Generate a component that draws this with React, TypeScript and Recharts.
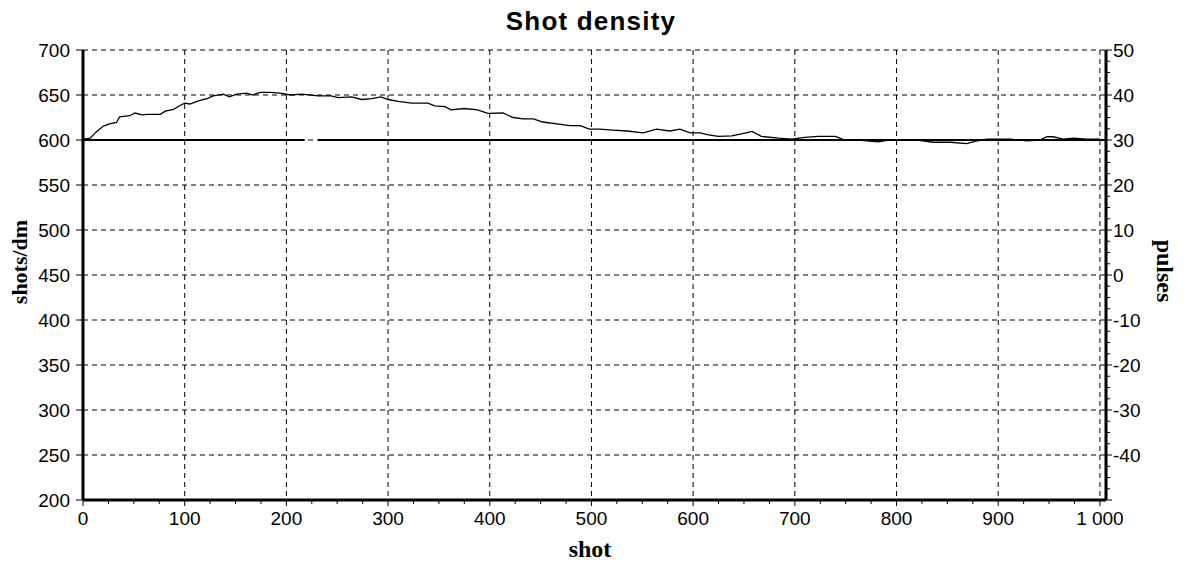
import React from 'react';
import { LineChart, Line, XAxis, YAxis, CartesianGrid } from 'recharts';

// Shot density curve (left axis, shots/dm)
const shotPositions = [
  0, 7, 13, 20, 26, 33, 36, 46, 51, 58, 63, 76, 81, 89, 95, 100, 105, 115, 122, 128,
  138, 144, 151, 161, 167, 174, 184, 194, 204, 215, 231, 244, 251, 264, 274, 284, 293, 300, 310, 323,
  339, 346, 356, 362, 375, 388, 398, 413, 423, 433, 443, 452, 466, 479, 489, 498, 508, 521, 535, 551,
  564, 577, 587, 597, 607, 615, 625, 638, 651, 658, 667, 684, 697, 710, 723, 740, 749, 762, 782, 792,
  803, 820, 836, 853, 869, 879, 889, 902, 912, 928, 941, 948, 954, 964, 974, 987, 1000,
];
const shotDensity = [
  601, 602, 609, 615.5, 618, 619.5, 625.6, 627, 630, 628, 628.5, 628.5, 632, 634, 638, 641, 640, 644, 646, 649,
  651, 648, 651, 652, 650, 653, 653, 652, 650, 651, 649, 649, 647, 648, 645, 646, 648, 645, 643, 641,
  641, 638, 637, 633.5, 635, 633.5, 629.6, 630, 625, 623.5, 623.5, 620, 618, 616, 616, 612, 612, 611, 610, 608,
  612, 610, 612, 608, 608, 605.7, 604, 604.5, 607.6, 609.5, 604, 602, 601, 603, 604, 604, 600, 600, 598, 600,
  600, 600, 597.5, 597.5, 596, 599, 601, 601, 601, 599, 600, 603.6, 603.6, 601, 602, 601, 601,
];

// Pulses (right axis) – flat line with a short gap
const pulseShots = [0, 218, 224, 231, 1006];
const pulseValues: (number | null)[] = [30, 30, null, 30, 30];

// Ticks
const xTicks = [0, 100, 200, 300, 400, 500, 600, 700, 800, 900, 1000];
const xMinorTicks = Array.from({ length: 41 }, (_, i) => i * 25);
const leftTicks = [200, 250, 300, 350, 400, 450, 500, 550, 600, 650, 700];
const rightTicks = [-40, -30, -20, -10, 0, 10, 20, 30, 40, 50];
const rightMinorTicks = Array.from({ length: 41 }, (_, i) => -50 + i * 2.5);

const curveData = shotPositions.map((s, i) => ({ shot: s, v: shotDensity[i] }));
const pulseData = pulseShots.map((s, i) => ({ shot: s, p: pulseValues[i] }));

const W = 1177;
const H = 548;

const tickStyle = { fill: '#000', fontSize: 19, fontFamily: 'Liberation Sans, Arial, sans-serif' };
const axisLineStyle = { stroke: '#000', strokeWidth: 3 };
const tickLineStyle = { stroke: '#000', strokeWidth: 1 };

// Tick for the main x axis: small minor ticks every 25 shots, labels every 100
const XTick = (props: any) => {
  const { x, y, payload } = props;
  const v = payload.value as number;
  const major = v % 100 === 0;
  return (
    <g>
      <line x1={x} x2={x} y1={y - 12} y2={y - 12 + (major ? 6 : 4)} stroke="#000" strokeWidth={1} />
      {major && (
        <text
          x={x}
          y={y}
          dy="0.71em"
          textAnchor="middle"
          fill="#000"
          fontSize={19}
          fontFamily="Liberation Sans, Arial, sans-serif"
        >
          {v === 1000 ? '1 000' : String(v)}
        </text>
      )}
    </g>
  );
};

// Tick for right axis: minor ticks every 2.5, labels every 10
const RTick = (props: any) => {
  const { x, y, payload } = props;
  const v = payload.value as number;
  const major = Math.abs(v % 10) < 1e-6;
  return (
    <g>
      <line x1={x - 7} x2={x - 7 + (major ? 6 : 4)} y1={y} y2={y} stroke="#000" strokeWidth={1} />
      {major && v > -50 && (
        <text
          x={x}
          y={y}
          dy="0.355em"
          textAnchor="start"
          fill="#000"
          fontSize={19}
          fontFamily="Liberation Sans, Arial, sans-serif"
        >
          {String(v)}
        </text>
      )}
    </g>
  );
};

export default function App() {
  return (
    <div style={{ position: 'relative', width: W, height: H + 8, background: '#fff' }}>
      <LineChart
        width={W}
        height={H}
        margin={{ top: 42, right: 29, bottom: 16, left: 15 }}
        style={{ fontFamily: 'Liberation Sans, Arial, sans-serif' }}
      >
        <CartesianGrid
          xAxisId="grid"
          stroke="#000"
          strokeDasharray="5 4"
          strokeWidth={1}
        />
        <XAxis
          xAxisId="grid"
          type="number"
          dataKey="shot"
          domain={[0, 1006]}
          allowDataOverflow
          ticks={xTicks}
          interval={0}
          hide
        />
        <XAxis
          type="number"
          dataKey="shot"
          domain={[0, 1006]}
          allowDataOverflow
          ticks={xMinorTicks}
          interval={0}
          height={40}
          tickSize={0}
          tickMargin={12}
          axisLine={axisLineStyle}
          tickLine={false}
          tick={XTick}
        />
        <YAxis
          type="number"
          domain={[200, 700]}
          allowDataOverflow
          ticks={leftTicks}
          interval={0}
          width={60}
          tickSize={7}
          tickMargin={6}
          axisLine={axisLineStyle}
          tickLine={tickLineStyle}
          tick={tickStyle}
        />
        <YAxis
          yAxisId="right"
          orientation="right"
          type="number"
          domain={[-50, 50]}
          allowDataOverflow
          ticks={rightMinorTicks}
          interval={0}
          width={50}
          tickSize={0}
          tickMargin={7}
          axisLine={axisLineStyle}
          tickLine={false}
          tick={RTick}
        />
        <Line
          data={pulseData}
          yAxisId="right"
          dataKey="p"
          type="linear"
          stroke="#000"
          strokeWidth={2}
          dot={false}
          connectNulls={false}
          isAnimationActive={false}
        />
        <Line
          data={curveData}
          dataKey="v"
          type="linear"
          stroke="#000"
          strokeWidth={1.3}
          dot={false}
          isAnimationActive={false}
        />
      </LineChart>

      <div
        style={{
          position: 'absolute',
          left: 583,
          top: 13,
          transform: 'translate(-50%, -50%)',
          fontFamily: 'Liberation Sans, Arial, sans-serif',
          fontWeight: 'bold',
          fontSize: 26,
          letterSpacing: 1.2,
          whiteSpace: 'nowrap',
          color: '#000',
        }}
      >
        Shot density
      </div>
      <div
        style={{
          position: 'absolute',
          left: 12,
          top: 254,
          transform: 'translate(-50%, -50%) rotate(-90deg)',
          fontFamily: 'Liberation Serif, Times New Roman, serif',
          fontWeight: 'bold',
          fontSize: 22,
          whiteSpace: 'nowrap',
          color: '#000',
        }}
      >
        shots/dm
      </div>
      <div
        style={{
          position: 'absolute',
          left: 1156,
          top: 263,
          transform: 'translate(-50%, -50%) rotate(90deg)',
          fontFamily: 'Liberation Serif, Times New Roman, serif',
          fontWeight: 'bold',
          fontSize: 24,
          whiteSpace: 'nowrap',
          color: '#000',
        }}
      >
        pulses
      </div>
      <div
        style={{
          position: 'absolute',
          left: 582,
          top: 541,
          transform: 'translate(-50%, -50%)',
          fontFamily: 'Liberation Serif, Times New Roman, serif',
          fontWeight: 'bold',
          fontSize: 24,
          lineHeight: '24px',
          whiteSpace: 'nowrap',
          color: '#000',
        }}
      >
        shot
      </div>
    </div>
  );
}
